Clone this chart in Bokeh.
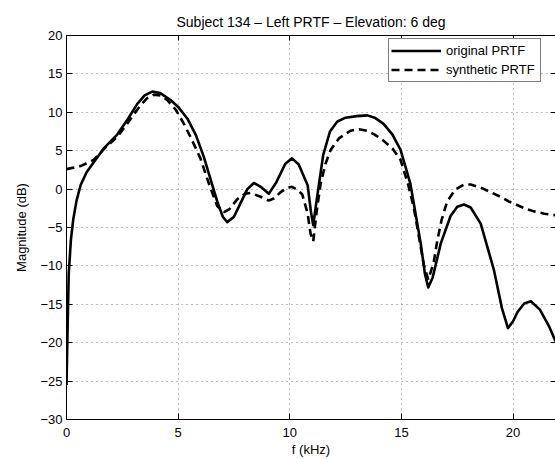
from bokeh.plotting import figure
from bokeh.models import Range1d, LinearAxis, Legend, LegendItem, FixedTicker
from bokeh.embed import file_html
from bokeh.resources import INLINE

# ---- data ----
f_orig = [0, 0.05, 0.1, 0.2, 0.3, 0.45, 0.63, 0.9, 1.22, 1.67, 2.27, 2.72, 3.17, 3.5, 3.84,
          4.2, 4.66, 5.0, 5.41, 5.8, 6.15, 6.5, 6.75, 7.0, 7.2, 7.5, 7.8, 8.1, 8.39, 8.7,
          9.06, 9.4, 9.8, 10.1, 10.4, 10.8, 10.95, 11.05, 11.2, 11.5, 11.8, 12.13, 12.5,
          13.0, 13.47, 13.8, 14.2, 14.6, 14.96, 15.4, 15.86, 16.05, 16.2, 16.4, 16.76,
          17.2, 17.5, 17.8, 18.1, 18.55, 19.14, 19.5, 19.77, 20.0, 20.2, 20.5, 20.8,
          21.2, 21.6, 21.9]
mag_orig = [-25.5, -18, -11, -6.5, -4, -1.5, 0.5, 2.2, 3.5, 5.3, 7.1, 9.0, 11.1, 12.2, 12.7,
            12.5, 11.6, 10.7, 9.2, 7.0, 4.2, 0.8, -1.6, -3.6, -4.3, -3.6, -1.8, 0.0, 0.8, 0.3,
            -0.6, 0.9, 3.3, 4.0, 3.2, 0.5, -3.0, -4.7, -1.5, 4.5, 7.5, 8.8, 9.3,
            9.5, 9.6, 9.3, 8.5, 7.1, 5.1, 0.7, -7.0, -11.0, -12.8, -11.5, -7.1,
            -3.5, -2.3, -2.0, -2.4, -4.5, -10.5, -15.5, -18.1, -17.2, -16.0, -14.9, -14.6,
            -15.7, -17.8, -19.8]

f_synth = [0, 0.63, 1.22, 1.67, 2.27, 2.72, 3.0, 3.32, 3.6, 3.91, 4.2, 4.51, 4.9, 5.26, 5.6,
           6.0, 6.4, 6.75, 7.05, 7.3, 7.65, 8.0, 8.24, 8.69, 9.06, 9.3, 9.59, 9.9, 10.1,
           10.35, 10.56, 10.8, 10.93, 11.05, 11.2, 11.38, 11.6, 11.83, 12.2, 12.72, 13.1,
           13.47, 13.8, 14.2, 14.6, 14.96, 15.3, 15.56, 15.8, 16.0, 16.2, 16.45, 16.6,
           16.8, 17.05, 17.4, 17.8, 18.1, 18.55, 19.0, 19.44, 19.8, 20.2, 20.6, 20.94,
           21.4, 21.9]
mag_synth = [2.6, 3.0, 3.8, 5.2, 6.8, 8.5, 9.7, 10.9, 11.8, 12.3, 12.2, 11.6, 10.3, 8.5, 6.5,
             4.0, 0.5, -2.2, -3.0, -2.6, -1.3, -0.6, -0.5, -1.0, -1.5, -1.2, -0.4, 0.2, 0.3,
             -0.1, -0.7, -3.2, -5.8, -6.8, -3.0, 0.7, 3.3, 5.1, 6.6, 7.6, 7.8,
             7.6, 7.1, 6.3, 5.3, 3.8, 0.6, -2.5, -6.5, -9.8, -11.8, -9.5, -6.8,
             -4.0, -1.6, -0.1, 0.6, 0.6, 0.2, -0.4, -1.0, -1.6, -2.1, -2.6, -2.9,
             -3.2, -3.4]

x_ticks = [0, 5, 10, 15, 20]
y_ticks = [-30, -25, -20, -15, -10, -5, 0, 5, 10, 15, 20]
y_tick_labels = ["\u221230", "\u221225", "\u221220", "\u221215", "\u221210", "\u22125",
                 "0", "5", "10", "15", "20"]
title_text = "Subject 134 \u2013 Left PRTF \u2013 Elevation: 6 deg"
legend_labels = ["original PRTF", "synthetic PRTF"]

FONT = "Liberation Sans"

p = figure(width=555, height=459, output_backend="svg", toolbar_location=None,
           x_range=Range1d(0, 21.9), y_range=Range1d(-30, 20),
           min_border_left=66, min_border_right=0, min_border_top=35, min_border_bottom=39,
           title=title_text)
p.title.align = "center"
p.title.text_font = FONT
p.title.text_font_size = "14px"
p.title.text_font_style = "normal"
p.title.text_color = "black"
p.title.standoff = 11
p.outline_line_color = None
p.background_fill_color = "white"
p.border_fill_color = "white"

xt = FixedTicker(ticks=x_ticks)
yt = FixedTicker(ticks=y_ticks)
yover = {t: l for t, l in zip(y_ticks, y_tick_labels)}

for ax in p.xaxis:
    ax.ticker = xt
    ax.axis_label = "f (kHz)"
for ax in p.yaxis:
    ax.ticker = yt
    ax.axis_label = "Magnitude (dB)"
    ax.major_label_overrides = yover

for ax in list(p.xaxis) + list(p.yaxis):
    ax.major_tick_in = 6
    ax.major_tick_out = 0
    ax.minor_tick_line_color = None
    ax.axis_line_color = "black"
    ax.major_tick_line_color = "black"
    ax.major_label_text_font = FONT
    ax.major_label_text_font_size = "13px"
    ax.major_label_text_color = "black"
    ax.axis_label_text_font = FONT
    ax.axis_label_text_font_size = "13px"
    ax.axis_label_text_font_style = "normal"
    ax.axis_label_text_color = "black"
p.xaxis.major_label_standoff = 8
p.xaxis.axis_label_standoff = 2
p.yaxis.major_label_standoff = 4
p.yaxis.axis_label_standoff = 8

top = LinearAxis(ticker=xt, major_tick_in=5, major_tick_out=0, minor_tick_line_color=None,
                 major_label_text_font_size="1px", major_label_text_color=None,
                 major_label_standoff=0, axis_line_color="black")
right = LinearAxis(ticker=yt, major_tick_in=5, major_tick_out=0, minor_tick_line_color=None,
                   major_label_text_font_size="1px", major_label_text_color=None,
                   major_label_standoff=0, axis_line_color=None)
p.add_layout(top, "above")
p.add_layout(right, "right")

p.xgrid.ticker = xt
p.ygrid.ticker = yt
p.grid.grid_line_color = "#7f7f7f"
p.grid.grid_line_dash = "1 4"
p.grid.grid_line_width = 1

r1 = p.line(f_orig, mag_orig, line_color="black", line_width=2.6, line_join="round")
r2 = p.line(f_synth, mag_synth, line_color="black", line_width=2.6, line_dash="8 5")

legend = Legend(items=[LegendItem(label=legend_labels[0], renderers=[r1]),
                       LegendItem(label=legend_labels[1], renderers=[r2])],
                location=(322, 337))
legend.padding = 2
legend.spacing = 0
legend.margin = 0
legend.glyph_width = 50
legend.glyph_height = 19
legend.label_height = 19
legend.label_width = 92
legend.label_standoff = 5
legend.label_text_font = FONT
legend.label_text_font_size = "13px"
legend.label_text_color = "black"
legend.border_line_color = "black"
legend.border_line_width = 1
legend.background_fill_color = "white"
legend.background_fill_alpha = 1
p.add_layout(legend)

open("out.html", "w").write(file_html(p, INLINE))
